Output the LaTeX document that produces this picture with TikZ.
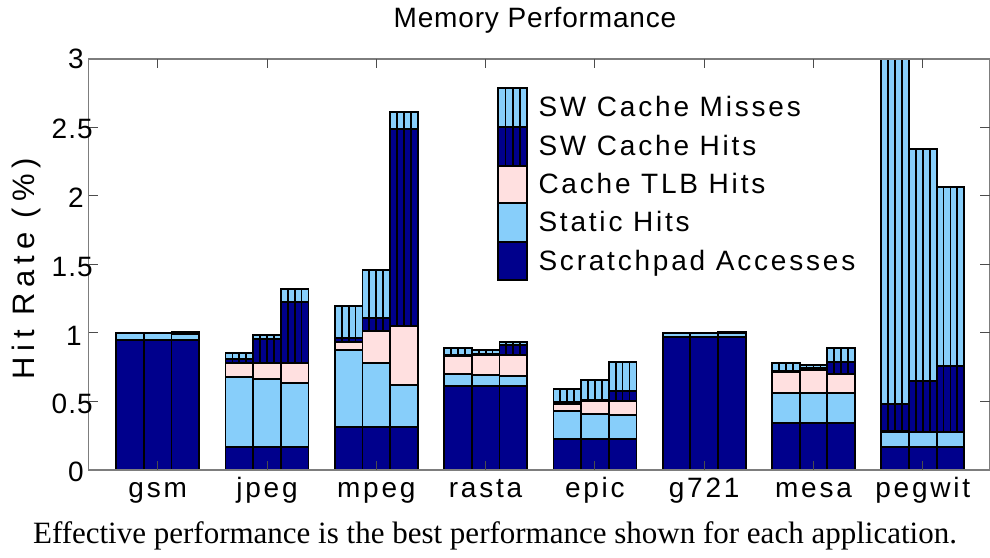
\documentclass[tikz,border=0pt]{standalone}
\usepackage{fontspec}
\setmainfont{Liberation Serif}
\newfontfamily\plotfont[LetterSpace=10]{Liberation Sans}
\newfontfamily\titlefont[LetterSpace=3]{Liberation Sans}
\newfontfamily\tickfont[LetterSpace=4]{Liberation Sans}
\newfontfamily\ylabfont[LetterSpace=19]{Liberation Sans}
\definecolor{navyfill}{RGB}{0,0,140}
\definecolor{skyfill}{RGB}{135,206,250}
\definecolor{pinkfill}{RGB}{255,224,224}
\definecolor{axisgray}{RGB}{125,125,125}

\tikzset{
  segedge/.style={draw=black, line width=1.8pt},
  hatchline/.style={draw=black, line width=1.8pt},
  axisline/.style={draw=axisgray, line width=1.2pt},
  tickmark/.style={draw=black!70, line width=1pt},
  plottext/.style={font=\plotfont\fontsize{28}{32}\selectfont, inner sep=0pt},
  titletext/.style={font=\titlefont\fontsize{28}{32}\selectfont, inner sep=0pt},
  ticktext/.style={font=\tickfont\fontsize{28}{32}\selectfont, inner sep=0pt},
  ylabtext/.style={font=\ylabfont\fontsize{31}{36}\selectfont, inner sep=0pt},
  captiontext/.style={font=\fontsize{31}{36}\selectfont, inner sep=0pt},
}

% width of one bar
\def\bw{27.67}

% one stacked bar: left x, then cumulative tops of
% scratchpad, static, cache TLB, SW hits, SW misses
\newcommand\stackbar[6]{%
  \begin{scope}[shift={(#1,87)},yscale=137]
    \filldraw[segedge,fill=navyfill] (0,0) rectangle (\bw,#2);
    \filldraw[segedge,fill=skyfill]  (0,#2) rectangle (\bw,#3);
    \filldraw[segedge,fill=pinkfill] (0,#3) rectangle (\bw,#4);
    \filldraw[segedge,fill=navyfill] (0,#4) rectangle (\bw,#5);
    \filldraw[segedge,fill=skyfill]  (0,#5) rectangle (\bw,#6);
    \foreach \h in {0.25,0.5,0.75}
      \draw[hatchline] (\h*\bw,#4) -- (\h*\bw,#6);
  \end{scope}}

\begin{document}
\begin{tikzpicture}[x=1pt,y=1pt]
\useasboundingbox (0,0) rectangle (990,557);
\fill[white] (0,0) rectangle (990,557);

% stacked bars, three per application
\foreach \x/\a/\b/\c/\d/\e in {
  116.2/0.95/1.0/1.0/1.0/1.0, 143.87/0.95/1.0/1.0/1.0/1.0, 171.53/0.95/0.995/0.995/1.0/1.005,
  225.5/0.17/0.681/0.779/0.808/0.852, 253.17/0.17/0.662/0.783/0.954/0.988, 280.83/0.17/0.637/0.779/1.229/1.321,
  334.8/0.316/0.876/0.937/0.961/1.197, 362.47/0.316/0.783/1.015/1.107/1.46, 390.13/0.316/0.62/1.051/2.489/2.616,
  444.1/0.613/0.701/0.832/0.840/0.888, 471.77/0.613/0.693/0.839/0.845/0.876, 499.43/0.613/0.686/0.837/0.910/0.932,
  553.4/0.224/0.431/0.482/0.499/0.589, 581.07/0.224/0.406/0.506/0.512/0.657, 608.73/0.224/0.401/0.501/0.579/0.791,
  662.7/0.973/1.002/1.002/1.002/1.002, 690.37/0.973/1.002/1.002/1.002/1.002, 718.03/0.973/0.998/0.998/1.0/1.005,
  772.0/0.341/0.560/0.718/0.725/0.779, 799.67/0.341/0.560/0.730/0.742/0.766, 827.33/0.341/0.560/0.698/0.791/0.888,
  881.3/0.170/0.280/0.285/0.482/3.0, 908.97/0.170/0.280/0.280/0.652/2.343, 936.63/0.170/0.275/0.275/0.761/2.064}
  {\stackbar{\x}{\a}{\b}{\c}{\d}{\e}}

% axes box
\draw[axisline] (88.5,87) rectangle (989.5,498);

% y ticks on both sides
\foreach \v in {0.5,1,1.5,2,2.5} {
  \draw[tickmark] (88.5,87+137*\v) -- (98,87+137*\v);
  \draw[tickmark] (980,87+137*\v) -- (989.5,87+137*\v);
}
% x ticks at the group centres, bottom and top
\foreach \k in {0,...,7} {
  \draw[tickmark] (157.7+109.3*\k,87) -- (157.7+109.3*\k,96.5);
  \draw[tickmark] (157.7+109.3*\k,498) -- (157.7+109.3*\k,488.5);
}

% y tick labels
\node[ticktext, anchor=east] (y0)  at (84,85)  {0};
\node[ticktext, anchor=east] (y05) at (93,153) {0.5};
\node[ticktext, anchor=east] (y1)  at (82,221) {1};
\node[ticktext, anchor=east] (y15) at (93,290) {1.5};
\node[ticktext, anchor=east] (y2)  at (84,359) {2};
\node[ticktext, anchor=east] (y25) at (93,428) {2.5};
\node[ticktext, anchor=east] (y3)  at (84,498) {3};

% application names
\foreach \k/\lab in {0/gsm,1/jpeg,2/mpeg,3/rasta,4/epic,5/g721,6/mesa,7/pegwit}
  \node[plottext, anchor=base] (app\k) at (157.7+109.3*\k,59.5) {\lab};

% axis label and title
\node[ylabtext, anchor=base, rotate=90] (ylab) at (34.5,288) {Hit Rate (\%)};
\node[titletext, anchor=base] (title) at (535,529) {Memory Performance};

% legend
\foreach \i/\top/\bot/\col/\hat/\lab in {
  0/468.7/430.3/skyfill/1/SW Cache Misses,
  1/430.3/391.3/navyfill/1/SW Cache Hits,
  2/391.3/353.7/pinkfill/0/Cache TLB Hits,
  3/353.7/314.7/skyfill/0/Static Hits,
  4/314.7/277/navyfill/0/Scratchpad Accesses} {
  \filldraw[segedge,fill=\col] (498.3,\bot) rectangle (527.3,\top);
  \ifnum\hat=1
    \foreach \h in {0.25,0.5,0.75}
      \draw[hatchline] (498.3+29*\h,\bot) -- (498.3+29*\h,\top);
  \fi
  \node[plottext, anchor=base west] (leg\i) at (538.3,{(\top+\bot)/2-9}) {\lab};
}

% caption below the plot
\node[captiontext, anchor=base] (caption) at (495,14)
  {Effective performance is the best performance shown for each application.};
\end{tikzpicture}
\end{document}
